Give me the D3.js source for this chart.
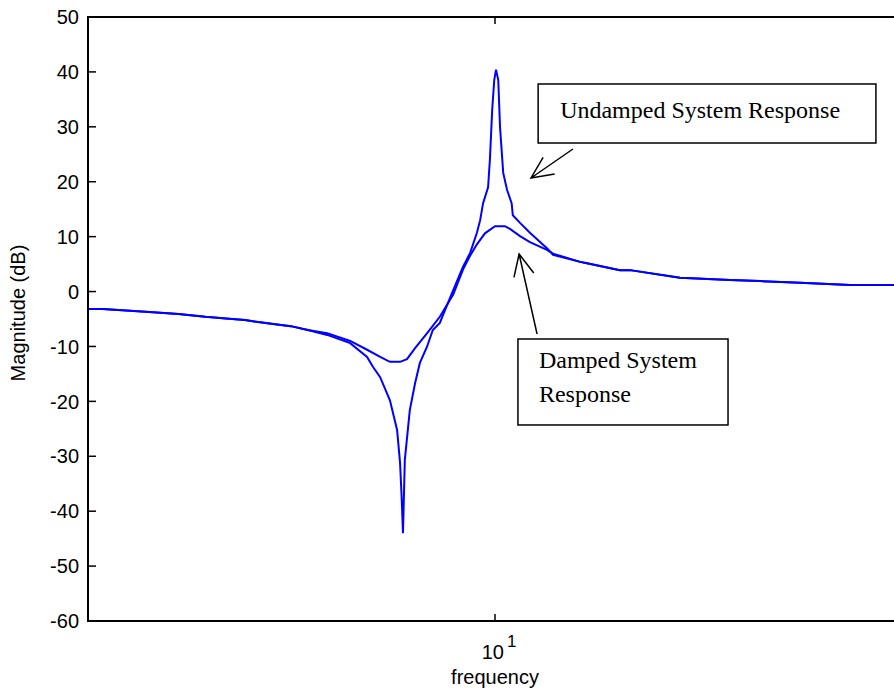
<!DOCTYPE html>
<html>
<head>
<meta charset="utf-8">
<script src="https://cdn.jsdelivr.net/npm/d3@7"></script>
<style>
  body { margin: 0; background: #fff; }
  svg { display: block; }
</style>
</head>
<body>
<div id="chart"></div>
<script>
const width = 894;
const height = 694;

// frequency (Hz, log axis) and magnitude (dB)
const undampedFreq = [2.00, 2.12, 2.51, 2.86, 3.18, 3.45, 3.72, 3.95, 4.16, 4.46, 4.77, 5.15, 5.64, 6.03, 6.17, 6.35, 6.60, 6.79, 6.87, 6.91, 6.95, 6.98, 7.00, 7.14, 7.29, 7.43, 7.64, 7.82, 8.04, 8.48, 8.81, 9.06, 9.31, 9.43, 9.54, 9.73, 9.80, 9.89, 9.97, 10.04, 10.13, 10.20, 10.33, 10.49, 10.68, 10.73, 11.04, 11.48, 12.28, 12.58, 14.00, 14.32, 16.39, 17.06, 20.78, 25.33, 28.52, 33.41, 40.71, 50.00];
const undampedDb = [-3.2, -3.2, -3.7, -4.1, -4.6, -4.9, -5.2, -5.6, -5.9, -6.3, -7.0, -7.9, -9.4, -11.9, -13.7, -15.6, -19.8, -25.2, -31.2, -37.0, -44.0, -36.1, -30.7, -21.6, -16.7, -13.0, -10.1, -7.0, -5.7, 0.3, 4.5, 7.0, 10.7, 13.0, 16.1, 19.0, 24.0, 33.1, 38.5, 40.4, 38.5, 30.0, 21.6, 18.5, 16.1, 13.9, 12.5, 10.7, 7.9, 6.7, 5.4, 5.2, 3.9, 3.9, 2.5, 2.1, 1.9, 1.6, 1.2, 1.2];

const dampedFreq = [2.00, 2.12, 2.51, 2.86, 3.18, 3.45, 3.72, 3.95, 4.16, 4.46, 4.77, 5.15, 5.64, 6.03, 6.35, 6.60, 6.87, 7.06, 7.29, 7.64, 8.04, 8.48, 8.81, 9.06, 9.31, 9.61, 10.00, 10.40, 10.61, 11.04, 11.48, 12.28, 12.58, 14.00, 14.32, 16.39, 17.06, 20.78, 25.33, 28.52, 33.41, 40.71, 50.00];
const dampedDb = [-3.2, -3.2, -3.7, -4.1, -4.6, -4.9, -5.2, -5.6, -5.9, -6.3, -7.0, -7.6, -9.0, -10.6, -11.9, -12.8, -12.8, -12.3, -10.3, -7.6, -4.6, -0.5, 4.0, 6.5, 8.6, 10.6, 11.9, 11.9, 11.4, 10.1, 9.0, 7.6, 6.9, 5.4, 5.2, 3.9, 3.9, 2.5, 2.1, 1.9, 1.6, 1.2, 1.2];

const yTicks = [-60, -50, -40, -30, -20, -10, 0, 10, 20, 30, 40, 50];

// annotation boxes [f0, f1, dbTop, dbBottom] and arrows [fromF, fromDb, tipF, tipDb]
const undampedBox = [11.86, 45.1, 37.8, 27.05];
const undampedLines = ["Undamped System Response"];
const undampedArrow = [13.61, 25.96, 11.53, 20.68];
const dampedBox = [10.95, 25.13, -8.64, -24.3];
const dampedLines = ["Damped System", "Response"];
const dampedArrow = [11.81, -7.73, 11.0, 6.84];

const margin = { left: 88, top: 17, right: -8, bottom: 73 };

const svg = d3.select("#chart")
    .append("svg")
    .attr("width", width)
    .attr("height", height);

const x = d3.scaleLog()
    .domain([2, 50])
    .range([margin.left, width - margin.right]);

const y = d3.scaleLinear()
    .domain([-60, 50])
    .range([height - margin.bottom, margin.top]);

const font = "Liberation Sans, Arial, sans-serif";
const serif = "Liberation Serif, Times New Roman, serif";

// curves
const line = d3.line()
    .x(d => x(d[0]))
    .y(d => y(d[1]));

svg.append("path")
    .datum(dampedFreq.map((f, i) => [f, dampedDb[i]]))
    .attr("fill", "none")
    .attr("stroke", "#0000ff")
    .attr("stroke-width", 2)
    .attr("d", line);

svg.append("path")
    .datum(undampedFreq.map((f, i) => [f, undampedDb[i]]))
    .attr("fill", "none")
    .attr("stroke", "#0000ff")
    .attr("stroke-width", 2)
    .attr("d", line);

// axes frame
const y0 = y(-60), y1 = y(50), x0 = x(2), x1 = x(50);
svg.append("path")
    .attr("d", `M${x1},${y1}H${x0}V${y0}H${x1}`)
    .attr("fill", "none")
    .attr("stroke", "#000")
    .attr("stroke-width", 2);

// y ticks
const yAxis = svg.append("g");
yAxis.selectAll("line")
    .data(yTicks)
    .enter().append("line")
    .attr("x1", x0).attr("x2", x0 + 8)
    .attr("y1", d => y(d)).attr("y2", d => y(d))
    .attr("stroke", "#000")
    .attr("stroke-width", 1.5);
yAxis.selectAll("text")
    .data(yTicks)
    .enter().append("text")
    .attr("x", x0 - 9)
    .attr("y", d => y(d))
    .attr("dy", "0.36em")
    .attr("text-anchor", "end")
    .attr("font-family", font)
    .attr("font-size", 20)
    .text(d => d);

// x tick at 10^1
svg.append("line")
    .attr("x1", x(10)).attr("x2", x(10))
    .attr("y1", y0).attr("y2", y0 - 7)
    .attr("stroke", "#000")
    .attr("stroke-width", 1.5);
svg.append("line")
    .attr("x1", x(10)).attr("x2", x(10))
    .attr("y1", y1).attr("y2", y1 + 7)
    .attr("stroke", "#000")
    .attr("stroke-width", 1.5);

const xt = svg.append("text")
    .attr("x", x(10) + 4)
    .attr("y", y0 + 38)
    .attr("text-anchor", "middle")
    .attr("font-family", font)
    .attr("font-size", 20);
xt.append("tspan").text("10");
xt.append("tspan").attr("dy", -12).attr("font-size", 17).attr("dx", 3).text("1");

svg.append("text")
    .attr("x", x(10))
    .attr("y", y0 + 63)
    .attr("text-anchor", "middle")
    .attr("font-family", font)
    .attr("font-size", 20)
    .text("frequency");

svg.append("text")
    .attr("transform", `translate(25,${(y0 + y1) / 2 - 6}) rotate(-90)`)
    .attr("text-anchor", "middle")
    .attr("font-family", font)
    .attr("font-size", 20)
    .text("Magnitude (dB)");

// annotations
function annotate(box, lines, arrow, padX, firstBase, lineGap) {
    const g = svg.append("g");
    const bx = x(box[0]), bw = x(box[1]) - bx;
    const by = y(box[2]), bh = y(box[3]) - by;
    g.append("rect")
        .attr("x", bx).attr("y", by)
        .attr("width", bw).attr("height", bh)
        .attr("fill", "#fff")
        .attr("stroke", "#000")
        .attr("stroke-width", 1.5);
    g.selectAll("text")
        .data(lines)
        .enter().append("text")
        .attr("x", bx + padX)
        .attr("y", (d, i) => by + firstBase + i * lineGap)
        .attr("font-family", serif)
        .attr("font-size", 24)
        .text(d => d);

    const fx = x(arrow[0]), fy = y(arrow[1]);
    const tx = x(arrow[2]), ty = y(arrow[3]);
    const ang = Math.atan2(fy - ty, fx - tx);
    const len = 24, spread = 25 * Math.PI / 180;
    const b1 = [tx + len * Math.cos(ang - spread), ty + len * Math.sin(ang - spread)];
    const b2 = [tx + len * Math.cos(ang + spread), ty + len * Math.sin(ang + spread)];
    g.append("path")
        .attr("d", `M${fx},${fy}L${tx},${ty}M${b1[0]},${b1[1]}L${tx},${ty}L${b2[0]},${b2[1]}`)
        .attr("fill", "none")
        .attr("stroke", "#000")
        .attr("stroke-width", 1.5);
}

annotate(undampedBox, undampedLines, undampedArrow, 22, 34, 0);
annotate(dampedBox, dampedLines, dampedArrow, 21, 29, 34);
</script>
</body>
</html>
